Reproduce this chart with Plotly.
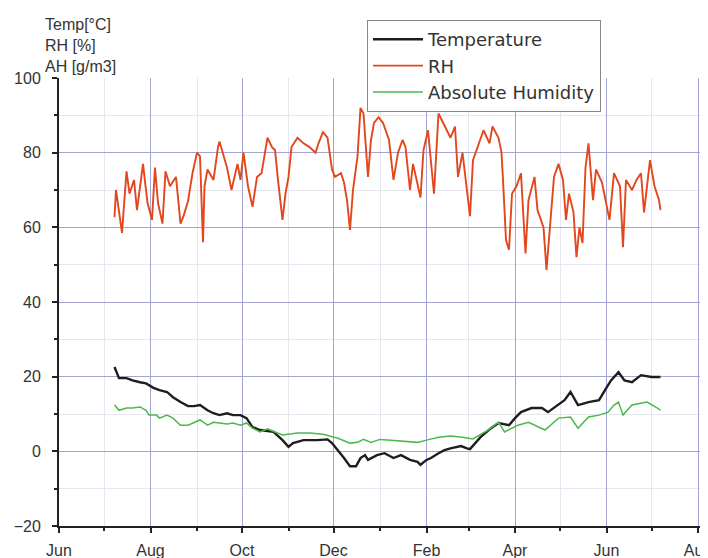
import plotly.graph_objects as go

rh_dates = ["2013-07-08","2013-07-09","2013-07-13","2013-07-16","2013-07-18","2013-07-21","2013-07-23","2013-07-27","2013-07-30",
"2013-08-02","2013-08-04","2013-08-06","2013-08-09","2013-08-11","2013-08-14","2013-08-18","2013-08-21","2013-08-23","2013-08-26","2013-08-29",
"2013-09-01","2013-09-03","2013-09-05","2013-09-06","2013-09-08","2013-09-12","2013-09-15","2013-09-16","2013-09-21","2013-09-24","2013-09-28","2013-09-30",
"2013-10-02","2013-10-05","2013-10-08","2013-10-11","2013-10-14","2013-10-18","2013-10-21","2013-10-23","2013-10-25","2013-10-28","2013-10-30",
"2013-11-01","2013-11-03","2013-11-07","2013-11-11","2013-11-15","2013-11-19","2013-11-21","2013-11-24","2013-11-27","2013-11-30",
"2013-12-02","2013-12-06","2013-12-08","2013-12-10","2013-12-12","2013-12-14","2013-12-17","2013-12-19","2013-12-21","2013-12-24","2013-12-26","2013-12-28","2013-12-31",
"2014-01-03","2014-01-07","2014-01-10","2014-01-13","2014-01-16","2014-01-18","2014-01-21","2014-01-23","2014-01-28","2014-01-30",
"2014-02-02","2014-02-06","2014-02-09","2014-02-12","2014-02-17","2014-02-20","2014-02-22","2014-02-25",
"2014-03-01","2014-03-02","2014-03-04","2014-03-08","2014-03-11","2014-03-15","2014-03-17","2014-03-21","2014-03-23","2014-03-24","2014-03-26","2014-03-28","2014-03-30",
"2014-04-02","2014-04-05","2014-04-07","2014-04-08","2014-04-10","2014-04-14","2014-04-16","2014-04-20","2014-04-22","2014-04-24","2014-04-27","2014-04-30",
"2014-05-03","2014-05-05","2014-05-07","2014-05-10","2014-05-12","2014-05-14","2014-05-16","2014-05-18","2014-05-20","2014-05-23","2014-05-25","2014-05-29",
"2014-06-01","2014-06-03","2014-06-06","2014-06-10","2014-06-12","2014-06-14","2014-06-18","2014-06-21","2014-06-24","2014-06-26","2014-06-30",
"2014-07-03","2014-07-06","2014-07-07"]
rh_values = [62.7,70,58.5,75,69,72.7,64.6,77,66.5,
62,76,66.5,61,75,71,73.5,61,63,67,74.5,
80,79,56,71,75.5,72.7,81.5,83,76,70,77,72.7,
80,71,65.5,73.5,74.5,84,81.5,80.7,72.7,62,69,
73.5,81.5,84,82.5,81.5,80,82.5,85.5,84,75.5,
73.5,74.5,72,67.3,59.3,70,79,92,90.5,73.5,83.4,88,89.5,
88,83.4,72.7,80,83.4,81.5,70,77,68,80.7,
86,69,90.5,88,84,87,73.5,80,
67,63,78,82.5,86,82.5,87,84,80,72.7,56.6,54,69,
71,74.5,60,53,67.3,73.5,64.6,60,48.6,58.5,73.5,77,
72.7,62,69,64,52,60,55.8,76,82.5,67.3,75.5,72,
66.5,62,74.5,71,54.7,72.7,70,72.7,74.5,64,78,
71,67.3,64.6]

t_dates = ["2013-07-08","2013-07-11","2013-07-16","2013-07-20","2013-07-25","2013-07-29","2013-08-03","2013-08-07","2013-08-12","2013-08-16",
"2013-08-21","2013-08-26","2013-08-30","2013-09-03","2013-09-08","2013-09-12","2013-09-16","2013-09-21","2013-09-25","2013-09-30",
"2013-10-04","2013-10-08","2013-10-13","2013-10-18","2013-10-22","2013-10-28","2013-11-01","2013-11-04","2013-11-11","2013-11-20",
"2013-11-27","2013-11-30","2013-12-04","2013-12-08","2013-12-12","2013-12-16","2013-12-19","2013-12-22","2013-12-24","2013-12-30",
"2014-01-04","2014-01-10","2014-01-15","2014-01-21","2014-01-26","2014-01-28","2014-02-01","2014-02-04","2014-02-09","2014-02-13",
"2014-02-17","2014-02-24","2014-02-28","2014-03-02","2014-03-09","2014-03-16","2014-03-21","2014-03-28","2014-04-01","2014-04-05",
"2014-04-12","2014-04-19","2014-04-23","2014-04-30","2014-05-04","2014-05-08","2014-05-13","2014-05-20","2014-05-27","2014-05-31",
"2014-06-04","2014-06-09","2014-06-13","2014-06-18","2014-06-24","2014-07-01","2014-07-07"]
t_values = [22.6,19.6,19.6,19,18.5,18.2,17,16.4,15.9,14.5,
13.2,12.1,12.1,12.4,11,10.2,9.7,10.2,9.7,9.7,
8.9,6.5,5.7,5.5,5.2,3.0,1.2,2.2,3,3,
3.2,2.2,0.3,-1.8,-4,-4,-1.8,-1,-2.3,-1,
-0.5,-1.8,-1,-2.3,-2.8,-3.6,-2.3,-1.8,-0.5,0.3,
0.8,1.4,0.8,0.6,3.8,6.2,7.6,7,8.9,10.5,
11.6,11.6,10.5,12.4,13.7,15.9,12.4,13.2,13.7,16.4,
19,21.2,19,18.5,20.4,19.9,19.9]

ah_dates = ["2013-07-08","2013-07-11","2013-07-16","2013-07-20","2013-07-25","2013-07-29","2013-07-31","2013-08-05","2013-08-07","2013-08-12",
"2013-08-16","2013-08-21","2013-08-26","2013-08-30","2013-09-03","2013-09-08","2013-09-12","2013-09-16","2013-09-21","2013-09-25",
"2013-09-30","2013-10-04","2013-10-08","2013-10-13","2013-10-18","2013-10-28","2013-11-07","2013-11-15","2013-11-24","2013-12-04",
"2013-12-12","2013-12-17","2013-12-21","2013-12-26","2014-01-01","2014-01-08","2014-01-17","2014-01-26","2014-02-03","2014-02-09",
"2014-02-17","2014-02-25","2014-03-04","2014-03-14","2014-03-21","2014-03-25","2014-04-03","2014-04-10","2014-04-21","2014-04-30",
"2014-05-08","2014-05-13","2014-05-20","2014-05-27","2014-06-02","2014-06-06","2014-06-09","2014-06-12","2014-06-18","2014-06-24",
"2014-06-28","2014-07-05","2014-07-07"]
ah_values = [12.4,11,11.6,11.6,11.9,11,9.7,9.7,8.9,9.7,
8.9,7.0,7,7.8,8.4,7,7.8,7.6,7.3,7.6,
7,7.6,6.2,5.2,6.0,4.4,4.9,4.9,4.6,3.5,
2.2,2.4,3.2,2.4,3.2,3,2.7,2.4,3.2,3.8,
4.1,3.8,3.3,5.7,7.8,5.2,7,7.8,5.7,8.9,
9.2,6.2,9.2,9.7,10.5,12.4,13.2,9.7,12.4,12.9,
13.2,11.6,11]

FONT = "Liberation Sans"

fig = go.Figure()
fig.add_trace(go.Scatter(x=t_dates, y=t_values, mode="lines", name="Temperature",
                         line=dict(color="#1e1e1e", width=2.4)))
fig.add_trace(go.Scatter(x=rh_dates, y=rh_values, mode="lines", name="RH",
                         line=dict(color="#e2471d", width=1.9)))
fig.add_trace(go.Scatter(x=ah_dates, y=ah_values, mode="lines", name="Absolute Humidity",
                         line=dict(color="#4cb84c", width=1.5)))

fig.update_layout(
    width=708, height=558,
    margin=dict(l=51, r=0, t=70, b=40, autoexpand=False),
    paper_bgcolor="white", plot_bgcolor="white",
    font=dict(family=FONT, size=16, color="#333333"),
    showlegend=True,
    legend=dict(x=0.4688, y=1.1295, xanchor="left", yanchor="top",
                bgcolor="white", bordercolor="#888888", borderwidth=1,
                font=dict(family="DejaVu Sans", size=18, color="#333333"),
                itemwidth=50, tracegroupgap=0),
    annotations=[dict(text="Temp[°C]<br>RH [%]<br>AH [g/m3]", xref="paper", yref="paper",
                      x=-0.0244, y=1.143, xanchor="left", yanchor="top", showarrow=False,
                      align="left", font=dict(family=FONT, size=16, color="#333333"))],
)

fig.update_xaxes(
    type="date", range=["2013-06-01", "2014-08-13"],
    tick0="2013-06-01", dtick="M2", tickformat="%b",
    ticks="outside", ticklen=5, tickwidth=1.5, tickcolor="#222",
    showline=True, linecolor="#222", linewidth=2,
    showgrid=True, gridcolor="#a4a4d4", gridwidth=1,
    minor=dict(dtick="M1", tick0="2013-06-01", ticks="outside", ticklen=3, tickcolor="#222",
               showgrid=True, gridcolor="#e4e6f0", gridwidth=1),
    tickfont=dict(family=FONT, size=16, color="#333333"),
    ticklabelstandoff=4,
    zeroline=False,
)
fig.update_yaxes(
    range=[-20, 100], tick0=-20, dtick=20,
    ticks="outside", ticklen=5, tickwidth=1.5, tickcolor="#222",
    showline=True, linecolor="#222", linewidth=2,
    showgrid=True, gridcolor="#a4a4d4", gridwidth=1,
    minor=dict(dtick=10, ticks="outside", ticklen=3, tickcolor="#222",
               showgrid=True, gridcolor="#e4e6f0", gridwidth=1),
    tickfont=dict(family=FONT, size=16, color="#333333"),
    ticklabelstandoff=8,
    zeroline=False,
)

fig.write_html("out.html")
